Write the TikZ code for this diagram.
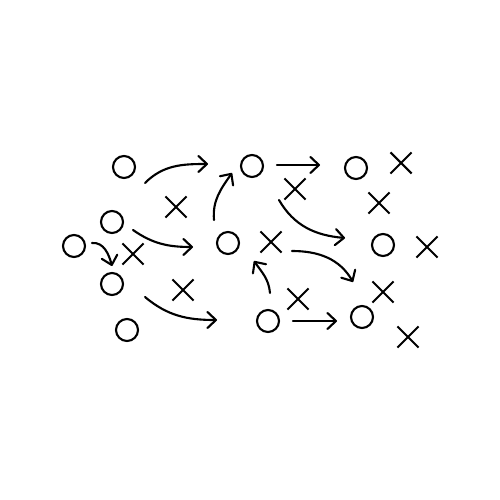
\documentclass[tikz,border=0pt]{standalone}
\usetikzlibrary{arrows.meta,shapes.misc}
\tikzset{
  player/.style={draw,circle,minimum size=4.4mm,inner sep=0pt,line width=1.2pt},
  guard/.style={draw,cross out,minimum size=3.8mm,inner sep=0pt,line width=1.2pt},
  route/.style={line width=1.2pt,line cap=round,-{Straight Barb[length=1.7mm,width=3.2mm,round]}}
}
\begin{document}
\begin{tikzpicture}[x=0.2mm,y=0.2mm]
\useasboundingbox (0,0) rectangle (500,500);
\foreach \n/\px/\py in {1/124/333,2/112/278,3/74/254,4/112/216,5/127/170,6/252/334,7/228/257,8/268/179,9/356/332,10/383/255,11/362/183}{\node[player](o\n) at (\px,\py){};}
\foreach \n/\px/\py in {1/176/293,2/133/246,3/183/210,4/295/311,5/401/337,6/379/297,7/271/258,8/427/253,9/383/208,10/298/201,11/408/163}{\node[guard](x\n) at (\px,\py){};}
% routes: start, end, out, in
\foreach \n/\sx/\sy/\ex/\ey/\ko/\ki in {1/145/317/208/336/45/180,2/92/257/112/234/5/105,3/133/270/193/253/-35/180,4/145/203/217/180/-40/180,5/214/280/232/327/95/-125,6/277/335/320/335/0/180,7/279/300/345/262/-60/175,8/292/249/353/218/0/120,9/270/207/254/239/95/-55,10/293/179/337/179/0/180}{
\coordinate(s\n) at (\sx,\sy);
\coordinate(e\n) at (\ex,\ey);
\draw[route](s\n) to[out=\ko,in=\ki] (e\n);}
\end{tikzpicture}
\end{document}
